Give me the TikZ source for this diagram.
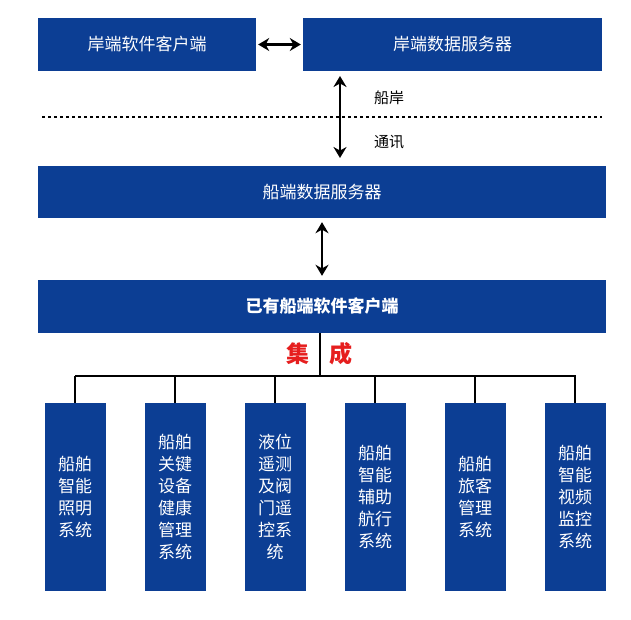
\documentclass[tikz,border=0pt]{standalone}
\usepackage{fontspec}
\setmainfont{Noto Sans CJK SC}
\usetikzlibrary{arrows.meta}
\definecolor{bx}{RGB}{12,62,148}
\definecolor{rd}{RGB}{230,30,30}
\begin{document}
\begin{tikzpicture}[x=1pt,y=1pt,
  box/.style={fill=bx,text=white,inner sep=0pt,font=\fontsize{17}{20}\selectfont},
  vbox/.style={box,align=center,font=\fontsize{17}{22}\selectfont},
  dar/.style={line width=2.6pt,arrows={Stealth[length=11pt,width=13pt]-Stealth[length=11pt,width=13pt]}},
  ln/.style={line width=1.4pt}]
\useasboundingbox[fill=white] (0,0) rectangle (631,-619);
\node[box,minimum width=218,minimum height=53] (a) at (147,-44.5) {岸端软件客户端};
\node[box,minimum width=299,minimum height=53] (b) at (452.5,-44.5) {岸端数据服务器};
\node[box,minimum width=568,minimum height=52] (c) at (322,-192) {船端数据服务器};
\node[box,minimum width=568,minimum height=53,font=\fontsize{17}{20}\selectfont\bfseries] (d) at (322,-306.5) {已有船端软件客户端};
\draw[dar] ([xshift=2pt]a.east) -- ([xshift=-2pt]b.west);
\coordinate (t1) at (340,-76); \coordinate (t2) at (340,-158);
\draw[dar] (t1) -- (t2);
\node[font=\fontsize{15}{17}\selectfont] (s1) at (389,-98) {船岸};
\node[font=\fontsize{15}{17}\selectfont] (s2) at (389,-142) {通讯};
\coordinate (l1) at (42,-117); \coordinate (l2) at (602,-117);
\draw[line width=2.2pt,dash pattern=on 3pt off 3pt] (l1) -- (l2);
\draw[dar] ([yshift=-4pt]c.south -| 322,0) -- ([yshift=4pt]d.north -| 322,0);
\node[text=rd,font=\fontsize{23}{25}\selectfont\bfseries] (j1) at (298,-354) {集};
\node[text=rd,font=\fontsize{23}{25}\selectfont\bfseries] (j2) at (341,-354) {成};
\coordinate (m) at (320,-376);
\draw[ln] (d.south -| m) -- (m);
\coordinate (h1) at (75,-376); \coordinate (h2) at (576,-376);
\draw[ln] (h1) -- (h2);
\foreach \i/\x/\t in {1/75/{船舶\\智能\\照明\\系统},2/175/{船舶\\关键\\设备\\健康\\管理\\系统},3/275/{液位\\遥测\\及阀\\门遥\\控系\\统},4/375/{船舶\\智能\\辅助\\航行\\系统},5/475/{船舶\\旅客\\管理\\系统},6/575/{船舶\\智能\\视频\\监控\\系统}}{
  \node[vbox,minimum width=61,minimum height=188] (v\i) at (\x,-497) {\t};
  \draw[ln] (v\i.north) -- (v\i.north |- h1);
}
\end{tikzpicture}
\end{document}
